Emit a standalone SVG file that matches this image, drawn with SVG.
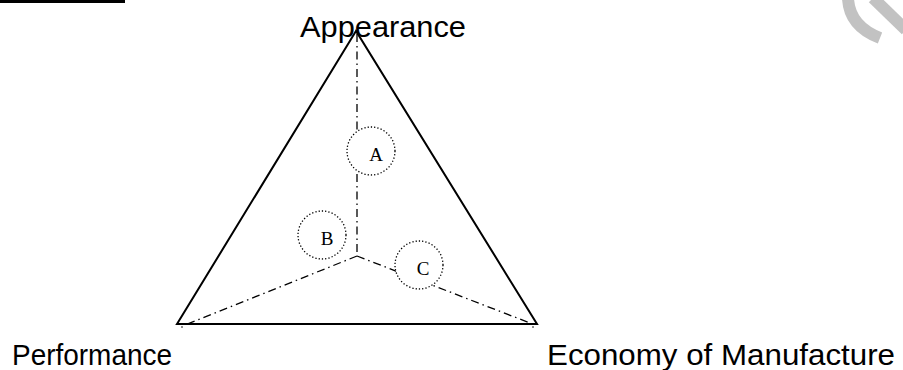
<svg xmlns="http://www.w3.org/2000/svg" width="903" height="370" viewBox="0 0 903 370">
<style>
.lbl{font-family:"Liberation Sans",Arial,sans-serif;font-size:29px;fill:#000}
.let{font-family:"Liberation Serif","Times New Roman",serif;font-size:19px;fill:#000;text-anchor:middle}
.axis{fill:none;stroke:#000;stroke-width:1.3;stroke-dasharray:8 4 1.5 4}
.circ{fill:#fff;stroke:#000;stroke-width:1.3;stroke-dasharray:1.3 2}
.tri{fill:none;stroke:#000;stroke-width:2}
</style>
<rect width="903" height="370" fill="#fff"/>
<rect x="0" y="0" width="125" height="3" fill="#000"/>
<g id="watermark" fill="none" stroke="#c2c2c2" stroke-width="12">
<path d="M848 -2 Q849 26 880 38"/>
<path d="M873 -2 L906 30"/>
</g>
<g id="triangle"><path class="tri" d="M356 31 L177 324 L537 324 Z"/></g>
<g id="connectors">
<path class="axis" d="M357 34 L357 256"/>
<path class="axis" d="M357 256 L185 325"/>
<path class="axis" d="M357 256 L530 323"/>
<circle cx="182" cy="327" r="0.8" fill="#000"/>
<circle cx="533" cy="327" r="0.8" fill="#000"/>
</g>
<g id="appearance"><text class="lbl" x="300" y="37" textLength="166" lengthAdjust="spacingAndGlyphs">Appearance</text></g>
<g id="performance"><text class="lbl" x="12" y="365" textLength="160" lengthAdjust="spacingAndGlyphs">Performance</text></g>
<g id="economy"><text class="lbl" x="547" y="365" textLength="348" lengthAdjust="spacingAndGlyphs">Economy of Manufacture</text></g>
<g id="nodeA"><circle class="circ" cx="371" cy="151" r="24"/><text class="let" x="376" y="161">A</text></g>
<g id="nodeB"><circle class="circ" cx="322" cy="235" r="24"/><text class="let" x="327" y="245">B</text></g>
<g id="nodeC"><circle class="circ" cx="419" cy="265" r="24"/><text class="let" x="423" y="275">C</text></g>
</svg>
